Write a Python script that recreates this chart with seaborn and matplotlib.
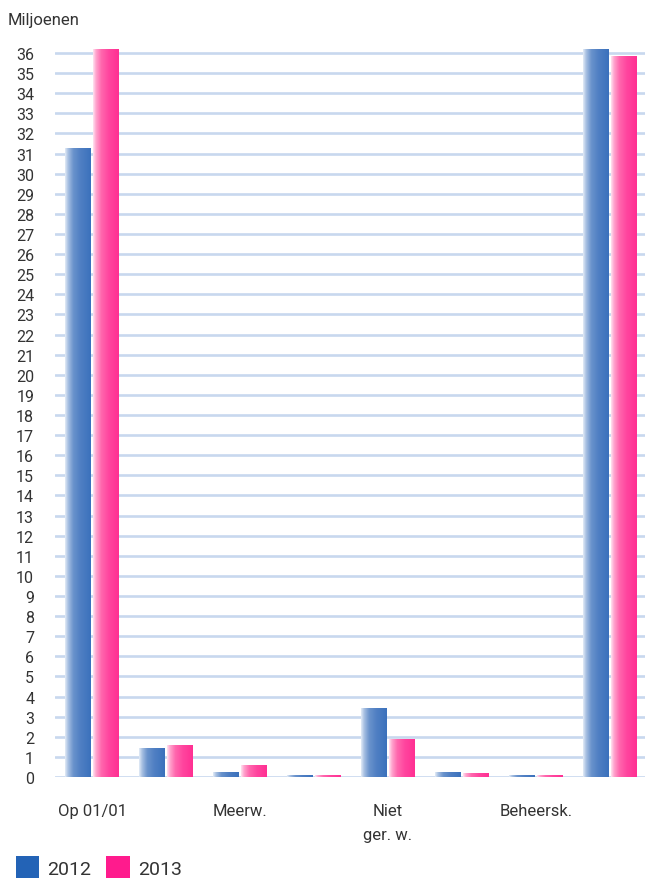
import numpy as np
import pandas as pd
import matplotlib
matplotlib.use("Agg")
import matplotlib.pyplot as plt
import seaborn as sns
from matplotlib.colors import LinearSegmentedColormap
from matplotlib.patches import Patch

# Data (in millions)
tick_labels = ["Op 01/01", "", "Meerw.", "", "Niet\nger. w.", "", "Beheersk.", ""]
years = ["2012", "2013"]
values_2012 = [31.3, 1.45, 0.25, 0.1, 3.45, 0.25, 0.1, 36.2]
values_2013 = [36.2, 1.6, 0.6, 0.1, 1.9, 0.2, 0.1, 35.85]
y_ticks = list(range(0, 37))

solid_colors = {"2012": "#2363b6", "2013": "#ff1b8d"}
gradients = {
    "2012": ["#e4ecf7", "#a8c0e2", "#6a93cc", "#4f7fc3", "#3b71bc"],
    "2013": ["#ffe4f1", "#ffa3cd", "#ff68ae", "#ff469f", "#ff2f92"],
}

n = len(tick_labels)
df = pd.DataFrame({
    "pos": list(range(n)) * 2,
    "value": values_2012 + values_2013,
    "year": [years[0]] * n + [years[1]] * n,
})

sns.set_style("white")
plt.rcParams["font.family"] = ["Roboto", "DejaVu Sans"]

W, H = 645, 879
fig = plt.figure(figsize=(W / 100, H / 100), dpi=100)
ax = fig.add_axes([55 / W, (H - 778) / H, 592 / W, 733 / H])

sns.barplot(data=df, x="pos", y="value", hue="year", hue_order=years,
            palette=solid_colors, width=0.76, gap=0.08, ax=ax,
            legend=False, saturation=1, linewidth=0, errorbar=None)

ax.set_xlim(-0.5, n - 0.5)
ax.set_ylim(0, 36.45)

# Horizontal shading on each bar
for year, container in zip(years, ax.containers):
    cmap = LinearSegmentedColormap.from_list(
        "g" + year, list(zip([0, 0.12, 0.32, 0.6, 1.0], gradients[year])))
    grad = np.linspace(0, 1, 256).reshape(1, -1)
    for bar in container:
        x0, y0 = bar.get_x(), bar.get_y()
        w, h = bar.get_width(), bar.get_height()
        im = ax.imshow(grad, cmap=cmap, aspect="auto",
                       extent=(x0, x0 + w, y0, y0 + h),
                       origin="lower", zorder=bar.get_zorder() + 0.1)
        im.set_clip_path(bar)

ax.set_xlim(-0.5, n - 0.5)
ax.set_ylim(0, 36.45)

grid_color = "#c8d8ee"
ax.set_axisbelow(True)
ax.yaxis.grid(True, color=grid_color, linewidth=1.9)
ax.set_yticks(y_ticks)
ax.set_yticklabels([str(t) for t in y_ticks])
ax.tick_params(axis="y", length=0, pad=15, labelsize=11.5, labelcolor="#333333")

# Category labels and boundary ticks
ax.set_xticks(range(n))
ax.set_xticklabels(tick_labels, linespacing=1.75)
ax.set_xticks(np.arange(-0.5, n, 1.0), minor=True)
ax.tick_params(axis="x", which="major", length=0, pad=19, labelsize=12,
               labelcolor="#333333")
ax.tick_params(axis="x", which="minor", length=11, width=1.6, color=grid_color,
               direction="out")
ax.set_xlabel("")
ax.set_ylabel("")

for s in ax.spines.values():
    s.set_visible(False)

fig.text(8 / W, 1 - 20 / H, "Miljoenen", fontsize=12, color="#333333",
         va="center", ha="left")

handles = [Patch(facecolor=solid_colors[y], edgecolor="none") for y in years]
fig.legend(handles, years, loc="lower left", bbox_to_anchor=(-2 / W, -19 / H),
           ncol=2, frameon=False, fontsize=14, handlelength=1.2,
           handleheight=1.5, handletextpad=0.45, columnspacing=0.75,
           labelcolor="#333333")

fig.savefig("out.png", dpi=100)
